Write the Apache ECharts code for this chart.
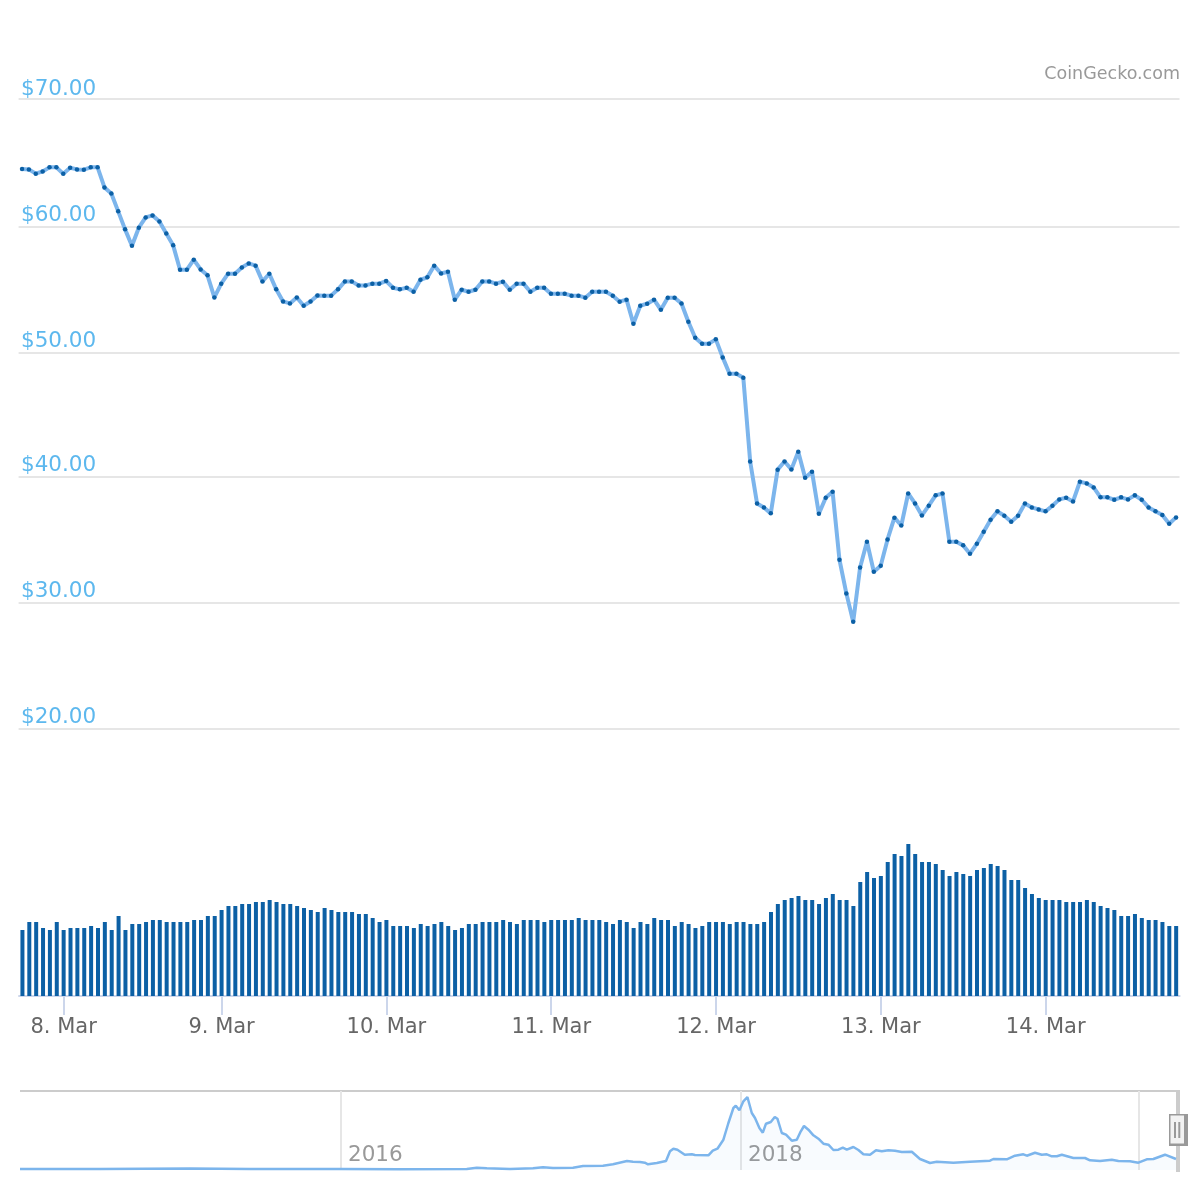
<!DOCTYPE html>
<html>
<head>
<meta charset="utf-8">
<title>CoinGecko price chart</title>
<script src="https://cdn.jsdelivr.net/npm/echarts@6/dist/echarts.min.js"></script>
<style>
  html, body { margin: 0; padding: 0; background: #fff; }
  #chart { width: 1200px; height: 1200px; }
</style>
</head>
<body>
<div id="chart"></div>
<script>
// hourly prices, 8 Mar -> 14 Mar
const prices = [
  64.42,64.39,64.05,64.23,64.55,64.55,64.05,64.52,64.39,64.37,64.55,64.55,62.96,62.48,61.06,59.63,58.33,59.76,60.58,60.74,
  60.26,59.31,58.36,56.43,56.43,57.22,56.45,55.98,54.23,55.32,56.11,56.11,56.61,56.93,56.75,55.50,56.11,54.87,53.91,53.75,
  54.23,53.57,53.91,54.39,54.37,54.37,54.87,55.50,55.50,55.18,55.18,55.32,55.32,55.53,55.00,54.87,
  55.00,54.68,55.63,55.82,56.75,56.13,56.27,54.05,54.84,54.68,54.84,55.50,55.50,55.32,55.48,54.84,55.32,55.32,54.68,55.00,
  55.00,54.52,54.52,54.52,54.37,54.37,54.21,54.68,54.68,54.68,54.37,53.89,54.05,52.14,53.57,53.73,54.05,53.25,54.21,54.21,
  53.75,52.30,51.03,50.56,50.56,50.90,49.47,48.17,48.17,47.86,41.21,37.88,37.56,37.09,40.56,41.21,40.58,41.98,
  39.92,40.40,37.06,38.33,38.81,33.41,30.74,28.49,32.80,34.84,32.46,32.94,35.02,36.75,36.13,38.67,37.88,36.93,37.70,38.52,
  38.67,34.84,34.84,34.55,33.89,34.68,35.63,36.59,37.25,36.90,36.43,36.90,37.88,37.56,37.40,37.25,37.70,38.20,38.33,38.04,
  39.60,39.47,39.15,38.36,38.36,38.17,38.36,38.20,38.52,38.17,37.56,37.25,36.96,36.27,36.77
];

// no scale in the picture, relative volume only
const volumes = [
  66,74,74,68,66,74,66,68,68,68,70,68,74,66,80,66,72,72,74,76,76,74,74,74,74,76,76,80,80,86,90,90,92,92,94,94,96,94,92,92,
  90,88,86,84,88,86,84,84,84,82,82,78,74,76,70,
  70,70,68,72,70,72,74,70,66,68,72,72,74,74,74,76,74,72,76,76,76,74,76,76,76,76,78,76,76,76,74,72,76,74,68,74,72,78,76,76,
  70,74,72,68,70,74,74,74,72,74,74,72,72,74,84,92,96,98,100,
  96,96,92,98,102,96,96,90,114,124,118,120,134,142,140,152,142,134,134,132,126,120,124,122,120,126,128,132,130,126,116,116,
  108,102,98,96,96,96,94,94,94,96,94,90,88,86,80,80,82,78,76,76,74,70,70
];

const dayTickIndex = [6, 29, 53, 77, 101, 125, 149];
const dayTickLabels = ['8. Mar', '9. Mar', '10. Mar', '11. Mar', '12. Mar', '13. Mar', '14. Mar'];

const priceTicks = [20, 30, 40, 49.84, 59.84, 70];
const priceLabelAt = [20, 30, 40, 49.84, 59.84, 69.84];
const priceTickLabels = ['$20.00', '$30.00', '$40.00', '$50.00', '$60.00', '$70.00'];

// navigator, whole history
const overviewYears = [
  2014.395,2014.795,2015.245,2015.545,2015.995,2016.295,2016.629,2016.679,2016.729,2016.845,2016.96,2017.01,2017.06,2017.16,2017.21,
  2017.31,2017.36,2017.43,2017.46,2017.495,2017.519,2017.535,2017.579,2017.625,2017.645,2017.662,2017.682,2017.719,2017.754,2017.77,
  2017.837,2017.859,2017.882,2017.912,2017.937,2017.962,2017.974,2017.992,2018.012,2018.032,2018.054,2018.07,2018.092,2018.109,2018.125,
  2018.149,2018.169,2018.182,2018.204,2018.225,2018.254,2018.279,2018.299,2018.315,2018.337,2018.362,2018.387,2018.412,2018.437,2018.462,
  2018.487,2018.509,2018.529,2018.562,2018.587,2018.612,2018.645,2018.675,2018.704,2018.737,2018.77,2018.804,2018.854,2018.895,2018.945,
  2018.979,2019.062,2019.145,2019.245,2019.262,2019.329,2019.37,2019.412,2019.429,2019.47,2019.504,2019.529,2019.554,2019.579,2019.604,
  2019.662,2019.72,2019.745,2019.795,2019.854,2019.887,2019.945,2019.987,2020.029,2020.062,2020.12,2020.175
];
const overviewPrices = [
  3.4,3.4,5.1,3.4,3.4,2.4,3.4,7.8,5.8,3.4,5.8,9.2,6.8,7.8,13.6,
  14.6,19.4,30.6,28.2,27.2,24.8,19.4,23.8,30.6,63.6,72.4,69,52,53.4,51,
  50,65.6,72.4,103,159.8,210.8,218.6,203,233.6,248.2,193.8,176.8,142.8,126.8,157.4,
  163.2,180.2,174.4,125.8,120,99.6,103,131.6,149.6,137,118,106.4,89.4,86,68,
  69,75.8,69,78.2,68,53.4,52,67,63.6,67,65.6,61.2,62.2,37.4,23.8,
  28.2,24.8,28.2,31.6,37.4,36.4,48.6,53.4,48.6,58.8,52,53.4,46.6,46.6,52,
  40.8,40.8,33,30.6,35,30.6,29.6,24.8,36.4,37.4,52,37.4
];
const overviewTicks = [2016, 2018, 2019.99];

const FONT = '"DejaVu Sans", sans-serif';
const hours = prices.map((_, i) => String(i));
const isDayTick = (i) => dayTickIndex.indexOf(+i) >= 0;

const chart = echarts.init(document.getElementById('chart'), null, { renderer: 'canvas' });
chart.setOption({
  animation: false,
  backgroundColor: '#fff',
  title: {
    text: 'CoinGecko.com',
    right: 15,
    top: 60,
    textStyle: { color: '#999', fontFamily: FONT, fontSize: 17.5, fontWeight: 'normal' }
  },
  grid: [
    { left: 18.6, width: 1160.9, top: 98.7, height: 630 },
    { left: 19, width: 1160.6, top: 836, height: 160 },
    { left: 20, width: 1158, top: 1091, height: 79 }
  ],
  xAxis: [
    { type: 'category', gridIndex: 0, data: hours, axisLine: { show: false }, axisTick: { show: false }, axisLabel: { show: false } },
    {
      type: 'category',
      gridIndex: 1,
      data: hours,
      offset: 1,
      axisLine: { show: true, lineStyle: { color: '#ccd6eb', width: 2 } },
      axisTick: {
        show: true,
        alignWithLabel: true,
        length: 19,
        lineStyle: { color: '#ccd6eb', width: 2 },
        interval: (i) => isDayTick(i)
      },
      axisLabel: {
        interval: (i) => isDayTick(i),
        margin: 20,
        color: '#666',
        fontFamily: FONT,
        fontSize: 21,
        formatter: (v) => dayTickLabels[dayTickIndex.indexOf(+v)]
      }
    },
    {
      type: 'value',
      gridIndex: 2,
      min: 2014.395,
      max: 2020.185,
      axisLine: { show: false },
      axisTick: { show: false, customValues: overviewTicks },
      splitLine: { show: true, lineStyle: { color: '#e6e6e6', width: 2 } },
      axisLabel: {
        customValues: [2016, 2018],
        inside: true,
        align: 'left',
        margin: 4,
        padding: [0, 0, 0, 7],
        color: '#999',
        fontFamily: FONT,
        fontSize: 21.5,
        formatter: (v) => String(Math.round(v))
      }
    }
  ],
  yAxis: [
    {
      type: 'value',
      gridIndex: 0,
      min: 20,
      max: 70,
      axisLine: { show: false },
      axisTick: { show: false, customValues: priceTicks },
      splitLine: { show: true, lineStyle: { color: '#e6e6e6', width: 2 } },
      axisLabel: {
        customValues: priceLabelAt,
        inside: true,
        margin: 2.4,
        verticalAlign: 'bottom',
        color: '#5db8ee',
        fontFamily: FONT,
        fontSize: 21.5,
        formatter: (v) => priceTickLabels[priceLabelAt.indexOf(v)]
      }
    },
    { type: 'value', gridIndex: 1, min: 0, max: 160, show: false },
    { type: 'value', gridIndex: 2, min: 0, max: 268.6, show: false }
  ],
  series: [
    {
      type: 'bar',
      xAxisIndex: 1,
      yAxisIndex: 1,
      data: volumes,
      barWidth: 4,
      itemStyle: { color: '#0c60a5' }
    },
    {
      type: 'line',
      xAxisIndex: 0,
      yAxisIndex: 0,
      data: prices,
      symbol: 'circle',
      symbolSize: 4.5,
      showAllSymbol: true,
      lineStyle: { color: '#7cb5ec', width: 4 },
      itemStyle: { color: '#0c60a5' }
    },
    {
      type: 'line',
      xAxisIndex: 2,
      yAxisIndex: 2,
      data: overviewYears.map((y, i) => [y, overviewPrices[i]]),
      symbol: 'none',
      lineStyle: { color: '#7cb5ec', width: 2.5 },
      areaStyle: { color: 'rgba(124,181,236,0.07)' }
    }
  ],
  graphic: [
    // navigator frame + handle
    { type: 'rect', shape: { x: 20, y: 1090, width: 1160, height: 2 }, style: { fill: '#ccc' } },
    { type: 'rect', shape: { x: 1176, y: 1090, width: 4, height: 82 }, style: { fill: '#ccc' } },
    { type: 'rect', shape: { x: 1169, y: 1114, width: 19, height: 32 }, style: { fill: '#999' } },
    { type: 'rect', shape: { x: 1170.5, y: 1115.5, width: 13.5, height: 28 }, style: { fill: '#f2f2f2' } },
    { type: 'rect', shape: { x: 1174, y: 1122, width: 2, height: 16 }, style: { fill: '#999' } },
    { type: 'rect', shape: { x: 1178.3, y: 1122, width: 2, height: 16 }, style: { fill: '#999' } }
  ]
});
</script>
</body>
</html>
